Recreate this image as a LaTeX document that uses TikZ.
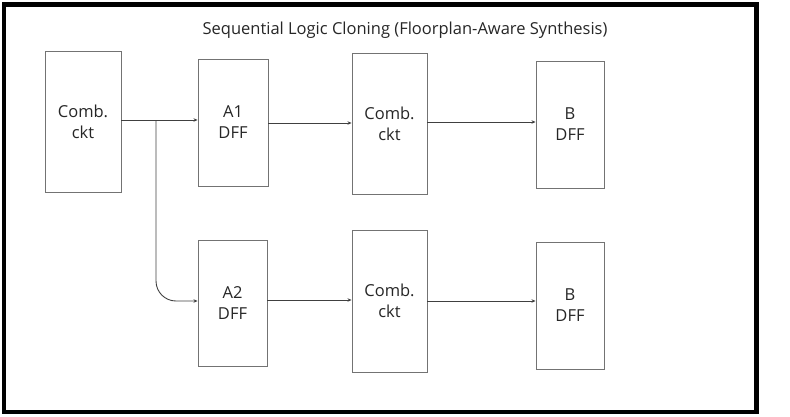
\documentclass[tikz,border=0pt]{standalone}
\usepackage{fontspec}
\setmainfont{Open Sans}
\usetikzlibrary{arrows.meta}
\begin{document}
\begin{tikzpicture}[x=1pt,y=-1pt,
  blk/.style={draw=black!55, line width=0.9pt, align=center, inner sep=0pt, font=\fontsize{16.5}{21}\selectfont, text=black!85},
  arr/.style={draw=black!75, line width=0.9pt, -{Stealth[length=4pt,width=3.5pt]}}]
\useasboundingbox (0,0) rectangle (790,416);
\draw[line width=4.5pt] (4,4.5) rectangle (756.5,412);
\node[font=\fontsize{16.5}{18}\selectfont, text=black!85] (title) at (405,30) {Sequential Logic Cloning (Floorplan-Aware Synthesis)};
\node[blk, minimum width=76pt, minimum height=141pt] (c0) at (83,121.5) {Comb.\\ckt};
\node[blk, minimum width=70pt, minimum height=127pt] (a1) at (233,122.5) {A1\\DFF};
\node[blk, minimum width=75pt, minimum height=141pt] (c1) at (389.5,123.5) {Comb.\\ckt};
\node[blk, minimum width=68pt, minimum height=127pt] (b1) at (570,124.5) {B\\DFF};
\node[blk, minimum width=69pt, minimum height=126pt] (a2) at (232.5,303) {A2\\DFF};
\node[blk, minimum width=75pt, minimum height=142pt] (c2) at (389.5,301) {Comb.\\ckt};
\node[blk, minimum width=68pt, minimum height=127pt] (b2) at (570,305.5) {B\\DFF};
\coordinate (j) at (156,120);
\coordinate (s) at (c0.east |- j);
\draw[arr] (s) -- (s -| a1.west);
\draw[arr, rounded corners=20pt] (j) |- ([yshift=2pt]a2.west);
\draw[arr] ([yshift=-0.5pt]a1.east) -- ([yshift=-0.5pt]a1.east -| c1.west);
\draw[arr] ([yshift=1.5pt]c1.east) -- ([yshift=1.5pt]c1.east -| b1.west);
\draw[arr] ([yshift=3pt]a2.east) -- ([yshift=3pt]a2.east -| c2.west);
\draw[arr] (c2.east) -- (c2.east -| b2.west);
\end{tikzpicture}
\end{document}
